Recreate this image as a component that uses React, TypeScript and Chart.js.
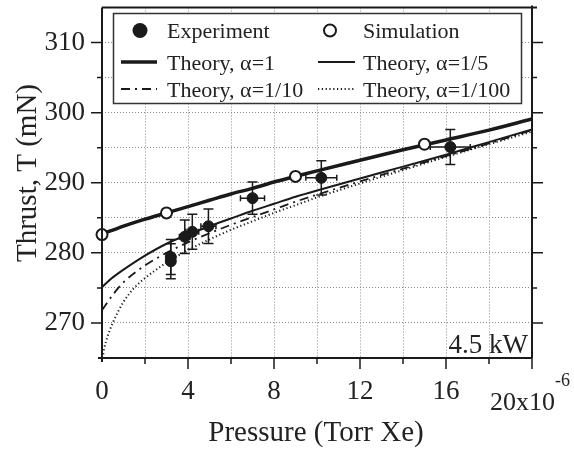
import { useEffect, useRef } from 'react';
import { Chart, registerables } from 'chart.js';

Chart.register(...registerables);

// ---- data ----
const EXP_P = [3.2, 3.2, 3.85, 4.2, 4.95, 7.0, 10.2, 16.2];
const EXP_T = [278.8, 279.4, 282.3, 283.0, 283.8, 287.8, 290.7, 295.1];
const EXP_T_ERR = [2.5, 2.5, 2.4, 2.5, 2.45, 2.3, 2.45, 2.5];
const EXP_P_ERR = [0.2, 0.2, 0.25, 0.3, 0.35, 0.56, 0.72, 0.93];

const SIM_P = [0, 3, 9, 15];
const SIM_T = [282.6, 285.7, 290.9, 295.5];

const THEORY_P = [0, 0.5, 1, 2, 3, 4, 5, 6, 7, 8, 9, 10, 12, 14, 16, 18, 20];
const THEORY_A1 = [282.7, 283.25, 283.8, 284.8, 285.7, 286.6, 287.5, 288.4, 289.2, 290.1, 290.9, 291.7, 293.2, 294.7, 296.1, 297.5, 299.1];
const THEORY_A5 = [275.1, 276.5, 277.6, 279.6, 281.3, 282.6, 283.8, 284.9, 286.0, 287.0, 288.0, 288.9, 290.6, 292.3, 294.0, 295.8, 297.6];
const THEORY_A10 = [271.8, 274.0, 275.8, 278.2, 280.0, 281.5, 282.8, 284.0, 285.1, 286.2, 287.3, 288.3, 290.2, 292.0, 293.8, 295.6, 297.5];
const THEORY_A100_P = [0.03, 0.1, 0.25, 0.5, 1, 1.5, 2, 3, 4, 5, 6, 7, 8, 9, 10, 12, 14, 16, 18, 20];
const THEORY_A100 = [265.0, 266.3, 268.0, 270.0, 273.0, 275.0, 276.4, 278.6, 280.4, 281.9, 283.3, 284.5, 285.7, 286.8, 287.9, 289.9, 291.8, 293.7, 295.5, 297.3];

const Y_MIN = 265;
const Y_MAX = 315;
const X_MIN = 0;
const X_MAX = 20;

const LEGEND_LABELS = ['Experiment', 'Simulation', 'Theory, α=1', 'Theory, α=1/5', 'Theory, α=1/10', 'Theory, α=1/100'];
const X_TITLE = 'Pressure (Torr Xe)';
const Y_TITLE = 'Thrust, T (mN)';
const POWER_LABEL = '4.5 kW';
const X_LAST_LABEL = '20x10';
const X_LAST_EXP = '-6';

const SERIF = "'Liberation Serif', 'Times New Roman', serif";
const INK = '#1a1a1a';
const TEXT = '#222';

const zip = (xs: number[], ys: number[]) => xs.map((x, i) => ({ x, y: ys[i] }));

const decorPlugin = {
  id: 'decor',
  beforeDatasetsDraw(chart: any) {
    const { ctx, scales } = chart;
    const xs = scales.x;
    const ys = scales.y;
    ctx.save();
    ctx.strokeStyle = INK;
    ctx.lineWidth = 1.5;
    EXP_P.forEach((p, i) => {
      const t = EXP_T[i];
      const px = xs.getPixelForValue(p);
      const py = ys.getPixelForValue(t);
      const yTop = ys.getPixelForValue(t + EXP_T_ERR[i]);
      const yBot = ys.getPixelForValue(t - EXP_T_ERR[i]);
      const xL = xs.getPixelForValue(p - EXP_P_ERR[i]);
      const xR = xs.getPixelForValue(p + EXP_P_ERR[i]);
      ctx.beginPath();
      ctx.moveTo(px, yTop);
      ctx.lineTo(px, yBot);
      ctx.moveTo(px - 5, yTop);
      ctx.lineTo(px + 5, yTop);
      ctx.moveTo(px - 5, yBot);
      ctx.lineTo(px + 5, yBot);
      ctx.moveTo(xL, py);
      ctx.lineTo(xR, py);
      ctx.moveTo(xL, py - 3);
      ctx.lineTo(xL, py + 3);
      ctx.moveTo(xR, py - 3);
      ctx.lineTo(xR, py + 3);
      ctx.stroke();
    });
    ctx.restore();
  },
  afterDraw(chart: any) {
    const { ctx, chartArea, scales } = chart;
    const { left, right, top, bottom } = chartArea;
    const xs = scales.x;
    const ys = scales.y;
    ctx.save();
    // frame
    ctx.strokeStyle = INK;
    ctx.lineWidth = 2;
    ctx.beginPath();
    ctx.moveTo(left, top);
    ctx.lineTo(left, bottom + 4);
    ctx.moveTo(left - 4, bottom);
    ctx.lineTo(right, bottom);
    ctx.moveTo(left, top);
    ctx.lineTo(right + 5, top);
    ctx.moveTo(right, top - 2);
    ctx.lineTo(right, bottom);
    ctx.stroke();
    // y ticks left & right
    ctx.lineWidth = 1.5;
    ctx.beginPath();
    for (let v = Y_MIN + 5; v < Y_MAX; v += 5) {
      const y = ys.getPixelForValue(v);
      const len = v % 10 === 0 ? 11 : 5;
      ctx.moveTo(left - len, y);
      ctx.lineTo(left, y);
      ctx.moveTo(right, y);
      ctx.lineTo(right + len, y);
    }
    for (let v = X_MIN + 2; v <= X_MAX; v += 2) {
      const x = xs.getPixelForValue(v);
      const len = v % 4 === 0 ? 11 : 6;
      ctx.moveTo(x, bottom);
      ctx.lineTo(x, bottom + len);
    }
    ctx.stroke();

    // legend
    const bx = 113.5, by = 13.5, bw = 408, bh = 90;
    ctx.fillStyle = '#fff';
    ctx.fillRect(bx, by, bw, bh);
    ctx.strokeStyle = '#333';
    ctx.lineWidth = 1.5;
    ctx.strokeRect(bx, by, bw, bh);

    const rowsY = [30.5, 62, 89];
    const baseY = [38, 69.5, 97];
    const col1Mark = 140, col2Mark = 330;
    const col1Line = [121, 157], col2Line = [318, 355];
    const col1Text = 167, col2Text = 363;

    ctx.fillStyle = INK;
    ctx.beginPath();
    ctx.arc(col1Mark, rowsY[0], 7.5, 0, Math.PI * 2);
    ctx.fill();
    ctx.beginPath();
    ctx.strokeStyle = INK;
    ctx.lineWidth = 2;
    ctx.arc(col2Mark, rowsY[0], 6, 0, Math.PI * 2);
    ctx.stroke();

    const legLine = (x0: number, x1: number, y: number, w: number, dash: number[]) => {
      ctx.save();
      ctx.strokeStyle = INK;
      ctx.lineWidth = w;
      ctx.setLineDash(dash);
      ctx.beginPath();
      ctx.moveTo(x0, y);
      ctx.lineTo(x1, y);
      ctx.stroke();
      ctx.restore();
    };
    legLine(col1Line[0], col1Line[1], rowsY[1], 3.5, []);
    legLine(col2Line[0], col2Line[1], rowsY[1], 2, []);
    legLine(col1Line[0], col1Line[1], rowsY[2], 2, [9, 5, 2, 5]);
    legLine(col2Line[0], col2Line[1], rowsY[2], 2, [1.2, 2.6]);

    ctx.fillStyle = TEXT;
    ctx.font = `22px ${SERIF}`;
    ctx.textAlign = 'left';
    ctx.textBaseline = 'alphabetic';
    ctx.fillText(LEGEND_LABELS[0], col1Text, baseY[0]);
    ctx.fillText(LEGEND_LABELS[1], col2Text, baseY[0]);
    ctx.fillText(LEGEND_LABELS[2], col1Text, baseY[1]);
    ctx.fillText(LEGEND_LABELS[3], col2Text, baseY[1]);
    ctx.fillText(LEGEND_LABELS[4], col1Text, baseY[2]);
    ctx.fillText(LEGEND_LABELS[5], col2Text, baseY[2]);

    // power label
    ctx.font = `27px ${SERIF}`;
    ctx.textAlign = 'right';
    ctx.fillText(POWER_LABEL, right - 4, bottom - 5);

    // last x label with exponent
    ctx.textAlign = 'left';
    ctx.font = `26px ${SERIF}`;
    const lx = 490;
    ctx.fillText(X_LAST_LABEL, lx, 410);
    const w = ctx.measureText(X_LAST_LABEL).width;
    ctx.font = `18px ${SERIF}`;
    ctx.fillText(X_LAST_EXP, lx + w, 386);

    // axis titles
    ctx.font = `29px ${SERIF}`;
    ctx.textAlign = 'center';
    ctx.fillText(X_TITLE, 316, 441);
    ctx.save();
    ctx.translate(28, 173);
    ctx.rotate(-Math.PI / 2);
    ctx.textBaseline = 'middle';
    ctx.fillText(Y_TITLE, 0, 0);
    ctx.restore();

    ctx.restore();
  },
};

export default function App() {
  const ref = useRef<HTMLCanvasElement | null>(null);
  useEffect(() => {
    if (!ref.current) return;
    const chart = new Chart(ref.current, {
      type: 'scatter',
      data: {
        datasets: [
          {
            label: LEGEND_LABELS[0],
            data: zip(EXP_P, EXP_T),
            pointRadius: 5.5,
            backgroundColor: INK,
            borderColor: INK,
            borderWidth: 1,
            clip: false as any,
          },
          {
            label: LEGEND_LABELS[1],
            data: zip(SIM_P, SIM_T),
            pointRadius: 5.5,
            backgroundColor: '#fff',
            borderColor: INK,
            borderWidth: 2,
            clip: false as any,
          },
          {
            label: LEGEND_LABELS[2],
            data: zip(THEORY_P, THEORY_A1),
            showLine: true,
            pointRadius: 0,
            borderColor: INK,
            borderWidth: 3.5,
            cubicInterpolationMode: 'monotone',
          },
          {
            label: LEGEND_LABELS[3],
            data: zip(THEORY_P, THEORY_A5),
            showLine: true,
            pointRadius: 0,
            borderColor: INK,
            borderWidth: 2,
            cubicInterpolationMode: 'monotone',
          },
          {
            label: LEGEND_LABELS[4],
            data: zip(THEORY_P, THEORY_A10),
            showLine: true,
            pointRadius: 0,
            borderColor: INK,
            borderWidth: 1.8,
            borderDash: [9, 5, 2, 5],
            cubicInterpolationMode: 'monotone',
          },
          {
            label: LEGEND_LABELS[5],
            data: zip(THEORY_A100_P, THEORY_A100),
            showLine: true,
            pointRadius: 0,
            borderColor: INK,
            borderWidth: 2,
            borderDash: [1.2, 2.6],
            cubicInterpolationMode: 'monotone',
          },
        ] as any,
      },
      options: {
        animation: false,
        responsive: false,
        devicePixelRatio: 1,
        layout: { padding: { left: 0, top: 7, right: 42, bottom: 0 } },
        plugins: { legend: { display: false }, tooltip: { enabled: false } },
        scales: {
          x: {
            type: 'linear',
            min: X_MIN,
            max: X_MAX,
            afterFit: (s: any) => {
              s.height = 95;
              s.paddingLeft = 0;
              s.paddingRight = 0;
              s.paddingTop = 0;
              s.paddingBottom = 0;
            },
            border: { display: false, dash: [1, 2] },
            grid: { color: '#8a8a8a', lineWidth: 1, drawTicks: false },
            ticks: {
              stepSize: 2,
              autoSkip: false,
              maxRotation: 0,
              padding: 18,
              color: TEXT,
              font: { family: SERIF, size: 27 },
              callback: (v: any) => (Number(v) % 4 === 0 && Number(v) < X_MAX ? String(v) : ''),
            },
          },
          y: {
            type: 'linear',
            min: Y_MIN,
            max: Y_MAX,
            afterFit: (s: any) => {
              s.width = 102;
              s.paddingLeft = 0;
              s.paddingRight = 0;
              s.paddingTop = 0;
              s.paddingBottom = 0;
            },
            border: { display: false, dash: [1, 2] },
            grid: { color: '#8a8a8a', lineWidth: 1, drawTicks: false },
            ticks: {
              stepSize: 5,
              autoSkip: false,
              padding: 17,
              color: TEXT,
              font: { family: SERIF, size: 27 },
              callback: (v: any) => (Number(v) % 10 === 0 ? String(v) : ''),
            },
          },
        },
      },
      plugins: [decorPlugin],
    });
    return () => chart.destroy();
  }, []);
  return (
    <div style={{ position: 'fixed', left: 0, top: 0, width: 574, height: 453, background: '#fff' }}>
      <canvas ref={ref} width={574} height={453} style={{ display: 'block' }} />
    </div>
  );
}
